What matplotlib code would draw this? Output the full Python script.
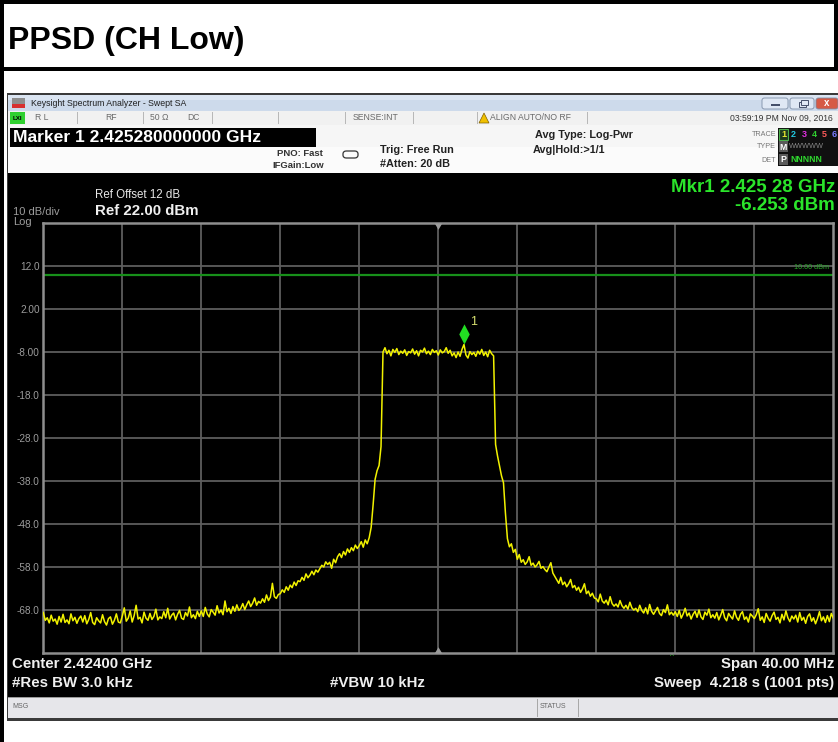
import numpy as np
import matplotlib
matplotlib.use("Agg")
import matplotlib.pyplot as plt
from matplotlib.patches import Rectangle, FancyBboxPatch, Polygon
from matplotlib.path import Path

plt.rcParams['font.family'] = ['Liberation Sans', 'DejaVu Sans']

# ---- sweep setup -------------------------------------------------------
CENTER_MHZ = 2424.0
SPAN_MHZ = 40.0
STEP_MHZ = 0.1
REF_LEVEL = 22.0
DB_PER_DIV = 10.0
N_DIV = 10
DISPLAY_LINE_DBM = 10.0
MARKER_FREQ_MHZ = 2425.28
MARKER_LEVEL_DBM = -6.253

Y_TICK_VALUES = [12, 2, -8, -18, -28, -38, -48, -58, -68]
Y_TICK_LABELS = ["12.0", "2.00", "-8.00", "-18.0", "-28.0",
                 "-38.0", "-48.0", "-58.0", "-68.0"]

# measured trace, 0.1 MHz per point from 2404.0 to 2444.0 MHz (dBm)
trace_dbm = [
    -68.6, -70.4, -69.8, -71.0, -69.2, -70.6, -70.1, -71.3, -69.5, -70.8, -69.0, -70.9, -70.3, -71.2, -68.9, -70.5, -69.7, -71.1, -70.0, -69.4,
    -70.8, -69.3, -71.2, -70.2, -68.6, -70.9, -71.4, -69.8, -70.5, -71.0, -69.1, -70.7, -71.5, -70.0, -69.6, -71.3, -70.4, -68.9, -70.8, -71.0,
    -69.4, -67.5, -70.6, -69.9, -68.2, -70.8, -69.3, -66.9, -70.1, -69.7, -71.0, -68.5, -69.9, -70.4, -68.8, -70.2, -69.5, -67.8, -70.3, -69.6,
    -70.0, -68.4, -69.8, -67.6, -70.1, -69.2, -68.7, -70.3, -69.0, -68.1, -69.9, -70.2, -68.6, -69.4, -67.3, -69.8, -69.1, -70.0, -68.3, -69.5,
    -68.2, -69.5, -67.4, -68.9, -69.6, -67.9, -68.5, -69.2, -67.0, -68.7, -68.0, -69.1, -65.9, -68.4, -67.6, -68.8, -67.2, -68.3, -66.8, -68.1,
    -67.6, -66.5, -67.9, -66.8, -65.9, -67.2, -66.4, -65.2, -66.9, -66.0, -66.4, -65.4, -66.2, -64.5, -65.8, -65.0, -61.8, -64.9, -65.3, -64.4,
    -64.2, -63.3, -63.9, -62.6, -63.4, -62.2, -62.8, -61.5, -62.3, -61.2, -61.4, -60.4, -61.1, -59.6, -60.5, -59.9, -59.0, -59.8, -58.7, -59.2,
    -58.4, -57.6, -58.0, -56.8, -57.4, -56.9, -58.3, -56.2, -57.0, -55.6, -54.9, -55.8, -54.4, -55.2, -53.8, -54.6, -53.5, -54.2, -52.9, -53.7,
    -53.0, -52.1, -53.4, -51.7, -52.6, -51.2, -48.8, -43.5, -37.6, -35.6, -34.4, -30.0, -8.0, -7.0, -8.4, -7.6, -8.9, -7.4, -8.1, -7.2,
    -8.6, -7.8, -8.3, -7.5, -8.8, -7.9, -8.2, -7.3, -8.5, -7.7, -8.9, -7.6, -8.0, -7.1, -8.4, -7.8, -8.6, -7.4, -8.1, -7.7,
    -8.7, -7.5, -8.2, -7.9, -7.0, -8.3, -7.6, -8.9, -8.2, -9.3, -8.0, -9.0, -7.4, -6.253, -8.7, -9.4, -7.9, -8.6, -8.1, -9.0,
    -7.8, -8.5, -7.4, -8.8, -8.0, -9.1, -7.6, -8.4, -8.9, -29.5, -32.2, -34.5, -36.8, -38.4, -45.5, -51.4, -53.3, -52.6, -54.6, -53.9,
    -56.2, -55.1, -56.9, -56.3, -57.4, -56.8, -55.6, -57.6, -57.1, -58.0, -57.5, -56.7, -58.3, -57.9, -58.6, -59.1, -58.0, -57.0, -59.4, -60.2,
    -61.0, -61.8, -60.4, -62.1, -61.5, -62.6, -61.9, -60.9, -62.8, -62.3, -63.4, -62.7, -63.9, -63.1, -61.9, -64.2, -63.6, -64.8, -64.1, -65.2,
    -65.4, -66.1, -64.3, -65.9, -66.4, -65.7, -66.8, -64.9, -66.5, -67.1, -66.6, -67.3, -65.8, -67.0, -67.6, -66.9, -67.8, -66.2, -67.5, -68.0,
    -67.6, -68.4, -66.9, -68.1, -68.7, -67.5, -68.9, -66.7, -68.3, -69.0, -68.2, -67.4, -68.8, -69.3, -67.9, -68.6, -66.8, -69.1, -68.5, -69.2,
    -68.4, -69.5, -68.1, -69.9, -68.9, -67.6, -69.4, -68.7, -70.1, -69.0, -68.3, -69.7, -68.0, -69.6, -70.2, -68.5, -69.2, -67.8, -69.8, -69.1,
    -69.9, -68.6, -70.3, -69.2, -67.9, -69.8, -70.5, -68.8, -69.5, -70.1, -68.2, -69.7, -70.4, -69.0, -68.4, -70.2, -69.6, -70.8, -68.9, -69.4,
    -70.0, -69.1, -67.7, -70.4, -69.6, -70.9, -68.8, -69.9, -70.6, -69.3, -68.5, -70.2, -69.7, -71.0, -69.0, -70.3, -68.2, -69.8, -70.7, -69.4,
    -70.1, -69.2, -70.8, -68.6, -70.4, -69.7, -71.1, -69.5, -68.9, -70.6, -69.8, -71.2, -70.0, -68.4, -70.5, -69.6, -70.9, -69.3, -70.7, -68.8,
    -69.9,
]

start_mhz = CENTER_MHZ - SPAN_MHZ / 2
stop_mhz = CENTER_MHZ + SPAN_MHZ / 2
freq_mhz = start_mhz + STEP_MHZ * np.arange(len(trace_dbm))
bottom_dbm = REF_LEVEL - N_DIV * DB_PER_DIV

# ---- page geometry in pixels -------------------------------------------
W, H = 838, 742
fig = plt.figure(figsize=(W / 100, H / 100), dpi=100)
fig.patch.set_facecolor("white")


def fx(x):
    return x / W


def fy(y):
    return 1 - y / H


def rect(x0, y0, x1, y1, **kw):
    kw.setdefault("linewidth", 0)
    fig.patches.append(Rectangle((fx(x0), fy(y1)), (x1 - x0) / W, (y1 - y0) / H,
                                 transform=fig.transFigure, **kw))


def txt(x, y, s, **kw):
    kw.setdefault("va", "center")
    fig.text(fx(x), fy(y), s, **kw)


# document table borders
rect(0, 0, 838, 4, facecolor="black")
rect(0, 67, 838, 71, facecolor="black")
rect(0, 0, 4, 742, facecolor="black")
rect(834, 0, 838, 71, facecolor="black")
txt(8, 41, "PPSD (CH Low)", fontsize=23, fontweight="bold", color="black")

# analyzer window frame
rect(7, 93, 838, 721, facecolor="#3a3a3a")
# title bar
rect(8, 95, 838, 111, facecolor="#cddaeb")
rect(8, 95, 838, 100, facecolor="#dbe5f2")
rect(12, 98, 25, 108, facecolor="#8e8e8e")
rect(12, 104, 25, 108, facecolor="#d83030")
txt(31, 103.5, "Keysight Spectrum Analyzer - Swept SA", fontsize=6.3, color="#202020")
for bx0, bx1, col in [(762, 788, "#dfe8f4"), (790, 814, "#dfe8f4"), (816, 838, "#d65a45")]:
    fig.patches.append(FancyBboxPatch((fx(bx0), fy(109)), (bx1 - bx0) / W, 11 / H,
                                      boxstyle="round,pad=0,rounding_size=0.003",
                                      transform=fig.transFigure, facecolor=col,
                                      edgecolor="#7d8ea6", linewidth=0.6))
rect(771, 104, 780, 106, facecolor="#45506a")
rect(799, 102, 806, 107, facecolor="none", edgecolor="#45506a", linewidth=0.7)
rect(801, 100, 808, 105, facecolor="#dfe8f4", edgecolor="#45506a", linewidth=0.7)
txt(827, 103.5, "x", fontsize=7, color="white", ha="center", fontweight="bold")

# status row
rect(8, 111, 838, 125, facecolor="#f1f1f1")
for dx in [77, 143, 212, 278, 345, 413, 477, 587]:
    rect(dx, 112, dx + 1, 124, facecolor="#b8b8b8")
rect(10, 112, 25, 124, facecolor="#2fd02f")
txt(17.5, 118, "LXI", fontsize=4.5, color="black", ha="center", fontweight="bold")
row_kw = dict(fontsize=6.2, color="#6a6a6a")
txt(35, 118, "R L", **row_kw)
txt(105, 118, "RF", **row_kw)
txt(150, 118, "50 \u03a9", **row_kw)
txt(187, 118, "DC", **row_kw)
txt(353, 118, "SENSE:INT", **row_kw)
fig.patches.append(Polygon([[fx(479), fy(123)], [fx(489), fy(123)], [fx(484), fy(113)]],
                           closed=True, transform=fig.transFigure,
                           facecolor="#f0c000", edgecolor="#806000", linewidth=0.5))
txt(490, 118, "ALIGN AUTO/NO RF", **row_kw)
txt(833, 118, "03:59:19 PM Nov 09, 2016", ha="right", fontsize=6.2, color="#333333")

# settings panel
rect(8, 125, 838, 173, facecolor="#f6f6f6")
rect(8, 147, 838, 173, facecolor="#fbfbfb")
rect(10, 128, 316, 147, facecolor="black")
txt(13, 137.5, "Marker 1 2.425280000000 GHz", fontsize=12.6, fontweight="bold", color="white")
set_kw = dict(fontsize=6.8, fontweight="bold", color="#333333")
txt(277, 153, "PNO: Fast", **set_kw)
txt(272, 166, "IFGain:Low", **set_kw)
fig.patches.append(FancyBboxPatch((fx(343), fy(158)), 15 / W, 7 / H,
                                  boxstyle="round,pad=0,rounding_size=0.004",
                                  transform=fig.transFigure, facecolor="none",
                                  edgecolor="#333333", linewidth=0.9))
big_kw = dict(fontsize=7.8, fontweight="bold", color="#222222")
txt(380, 150, "Trig: Free Run", **big_kw)
txt(380, 164, "#Atten: 20 dB", **big_kw)
txt(535, 135, "Avg Type: Log-Pwr", **big_kw)
txt(533, 150, "Avg|Hold:>1/1", **big_kw)
small_kw = dict(fontsize=5.2, color="#777777", ha="right")
txt(776, 134, "TRACE", **small_kw)
txt(776, 147, "TYPE", **small_kw)
txt(776, 160, "DET", **small_kw)
rect(778, 128, 838, 166, facecolor="#101010")
rect(779, 129, 788, 140, facecolor="#1e3a1e", edgecolor="#4bb04b", linewidth=0.8)
trace_cols = ["#e8e830", "#22c8e0", "#e030e0", "#30d030", "#ff5a5a", "#7a7aff"]
for i, c in enumerate(trace_cols):
    txt(783.5 + i * 10.2, 134.5, str(i + 1), fontsize=6.5, fontweight="bold", color=c, ha="center")
rect(779, 141, 788, 152, facecolor="#5a5a5a")
txt(783.5, 147, "M", fontsize=6.3, fontweight="bold", color="white", ha="center")
txt(789, 147, "WWWWW", fontsize=5.3, color="#888888")
rect(779, 154, 788, 165, facecolor="#5a5a5a")
txt(783.5, 160, "P", fontsize=6.3, fontweight="bold", color="white", ha="center")
txt(790, 160, "NNNNN", fontsize=6.3, fontweight="bold", color="#2ed82e")

# display area
rect(8, 173, 838, 697, facecolor="black")
grey = "#9c9c9c"
txt(95, 195, "Ref Offset 12 dB", fontsize=8.3, color="#e8e8e8")
txt(95, 211, "Ref 22.00 dBm", fontsize=10.8, fontweight="bold", color="#f0f0f0")
txt(13, 212, "10 dB/div", fontsize=8, color=grey)
txt(13, 222, "Log", fontsize=8, color=grey)
green = "#2be52b"
txt(835, 187, "Mkr1 2.425 28 GHz", fontsize=13.5, fontweight="bold", color=green, ha="right")
txt(835, 206, "-6.253 dBm", fontsize=13.5, fontweight="bold", color=green, ha="right")

white_kw = dict(fontsize=10.8, fontweight="bold", color="#f0f0f0")
txt(12, 664, "Center 2.42400 GHz", **white_kw)
txt(12, 683, "#Res BW 3.0 kHz", **white_kw)
txt(330, 683, "#VBW 10 kHz", **white_kw)
txt(834, 664, "Span 40.00 MHz", ha="right", **white_kw)
txt(834, 683, "Sweep  4.218 s (1001 pts)", ha="right", **white_kw)
txt(672, 657, "^", fontsize=6, color="#1fc01f", ha="center")

# message bar
rect(8, 697, 838, 718, facecolor="#e6e6ea")
rect(8, 697, 838, 698, facecolor="#9a9a9a")
rect(537, 699, 538, 717, facecolor="#a8a8a8")
rect(578, 699, 579, 717, facecolor="#a8a8a8")
txt(12, 707, "MSG", fontsize=5, color="#666666")
txt(540, 707, "STATUS", fontsize=5, color="#666666")
rect(4, 721, 838, 742, facecolor="white")

# ---- spectrum graticule ------------------------------------------------
ax = fig.add_axes([fx(43.3), fy(653), 790 / W, 430 / H])
ax.set_zorder(10)
ax.set_facecolor("black")
ax.set_xlim(start_mhz, stop_mhz)
ax.set_ylim(bottom_dbm, REF_LEVEL)
ax.set_xticks(np.arange(start_mhz + SPAN_MHZ / N_DIV, stop_mhz, SPAN_MHZ / N_DIV))
ax.set_xticklabels([])
ax.set_yticks(Y_TICK_VALUES, Y_TICK_LABELS)
ax.tick_params(axis="both", length=0)
ax.tick_params(axis="y", pad=2.5, labelsize=7.2, labelcolor=grey)
ax.grid(True, color="#5e5e5e", linewidth=1.3)
ax.set_axisbelow(True)
for sp in ax.spines.values():
    sp.set_color("#8e8e8e")
    sp.set_linewidth(1.8)

# display line
ax.axhline(DISPLAY_LINE_DBM, color="#17901a", linewidth=1.6)
ax.annotate(f"{DISPLAY_LINE_DBM:.2f} dBm", (stop_mhz, DISPLAY_LINE_DBM),
            xytext=(-3, 2.5), textcoords="offset points", ha="right", va="bottom",
            fontsize=5.2, color="#2aa82a")

# trace
ax.plot(freq_mhz, trace_dbm, color="#f2f200", linewidth=1.1, zorder=3)

# marker 1: diamond whose lower tip sits on the marked point
diamond = Path([(0, 0), (-0.52, 1), (0, 2), (0.52, 1), (0, 0)],
               [Path.MOVETO, Path.LINETO, Path.LINETO, Path.LINETO, Path.CLOSEPOLY])
ax.plot([MARKER_FREQ_MHZ], [MARKER_LEVEL_DBM], marker=diamond, markersize=29,
        color="#22dd22", markeredgewidth=0, linestyle="none", zorder=4)
ax.annotate("1", (MARKER_FREQ_MHZ, MARKER_LEVEL_DBM), xytext=(7.5, 16),
            textcoords="offset points", ha="center", va="center",
            fontsize=9, color="#d8e070")

# center-frequency indicators on top and bottom borders
tri_down = Path([(-0.6, 0), (0.6, 0), (0, -1), (-0.6, 0)],
                [Path.MOVETO, Path.LINETO, Path.LINETO, Path.CLOSEPOLY])
tri_up = Path([(-0.6, 0), (0.6, 0), (0, 1), (-0.6, 0)],
              [Path.MOVETO, Path.LINETO, Path.LINETO, Path.CLOSEPOLY])
ax.plot([CENTER_MHZ], [REF_LEVEL], marker=tri_down, markersize=9, color="#9a9a9a",
        markeredgewidth=0, clip_on=False, zorder=5)
ax.plot([CENTER_MHZ], [bottom_dbm], marker=tri_up, markersize=9, color="#9a9a9a",
        markeredgewidth=0, clip_on=False, zorder=5)

fig.savefig("out.png", dpi=100, facecolor=fig.get_facecolor())
